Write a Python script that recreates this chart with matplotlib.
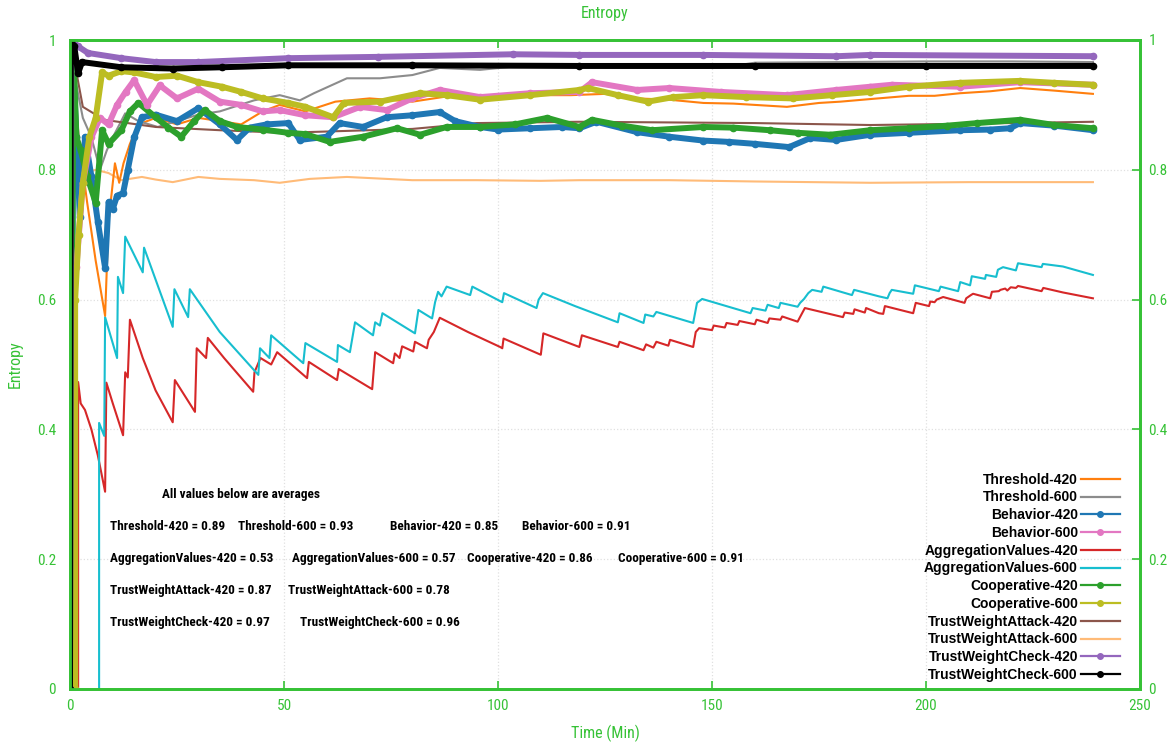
import matplotlib
matplotlib.use("Agg")
import matplotlib.pyplot as plt
from matplotlib.lines import Line2D
from matplotlib import font_manager

names = {f.name for f in font_manager.fontManager.ttflist}
BASE = 'Liberation Sans' if 'Liberation Sans' in names else 'DejaVu Sans'
NARROW = None
for cand in ['Liberation Sans Narrow', 'Roboto Condensed', 'Open Sans Condensed', 'Noto Sans Condensed',
             'Arial Narrow', 'DejaVu Sans Condensed']:
    if cand in names:
        NARROW = cand
        break
plt.rcParams['font.family'] = [BASE, 'DejaVu Sans']
NFAM = [NARROW, 'DejaVu Sans'] if NARROW else [BASE, 'DejaVu Sans']

GREEN = '#36c236'

# ---------------- data ----------------
thr420_x = [0, 0.6, 1, 2, 4, 6, 8.2, 9, 10.5, 11.5, 12.5, 14, 16, 20, 25, 30, 35, 40, 45, 49, 55, 62, 70, 80, 90, 100,
            110, 117, 125, 132.5, 140, 148, 155, 160, 167.5, 175, 180, 187, 196, 202, 208, 215, 222, 230, 239]
thr420_y = [0, 1.0, 0.95, 0.85, 0.75, 0.66, 0.575, 0.72, 0.81, 0.78, 0.81, 0.84, 0.87, 0.88, 0.87, 0.88, 0.875, 0.87,
            0.89, 0.90, 0.89, 0.905, 0.91, 0.905, 0.915, 0.91, 0.915, 0.915, 0.917, 0.91, 0.908, 0.903, 0.902, 0.9,
            0.897, 0.903, 0.905, 0.909, 0.914, 0.914, 0.918, 0.921, 0.926, 0.922, 0.917]

thr600_x = [0, 0.6, 1.5, 3, 5, 7, 8.6, 10, 12.9, 16, 20.5, 25, 30, 35, 43, 49, 53.7, 57, 64.7, 72.4, 80, 86.4, 95.8,
            105, 115, 125, 140, 152, 160, 180, 200, 220, 239]
thr600_y = [0, 1.0, 0.93, 0.88, 0.85, 0.80, 0.83, 0.85, 0.887, 0.875, 0.866, 0.875, 0.885, 0.89, 0.907, 0.915, 0.907,
            0.918, 0.941, 0.941, 0.946, 0.957, 0.954, 0.96, 0.963, 0.958, 0.957, 0.957, 0.965, 0.966, 0.967, 0.967, 0.966]

beh420_x = [0, 0.8, 1.5, 2.3, 3.5, 5, 6.5, 8.2, 9, 10, 11, 12.4, 13.5, 15, 16.8, 20, 25, 30, 35, 39, 42, 46, 51, 53.7,
            60, 63, 68.5, 74, 80, 86.4, 90, 95.8, 100, 107.5, 115, 119, 123, 132.5, 140, 148, 154, 160, 168, 173, 179,
            187, 196, 208, 215, 219.6, 222, 230, 239]
beh420_y = [0, 0.95, 0.85, 0.727, 0.85, 0.79, 0.72, 0.649, 0.75, 0.74, 0.76, 0.764, 0.80, 0.85, 0.881, 0.885, 0.875,
            0.895, 0.87, 0.846, 0.865, 0.87, 0.872, 0.846, 0.851, 0.872, 0.866, 0.881, 0.884, 0.889, 0.875, 0.866,
            0.862, 0.864, 0.866, 0.864, 0.874, 0.858, 0.851, 0.845, 0.843, 0.84, 0.835, 0.849, 0.846, 0.854, 0.857,
            0.861, 0.862, 0.864, 0.872, 0.868, 0.861]

beh600_x = [0, 0.8, 1.5, 3, 5, 7, 9, 11, 13, 15, 18, 21, 25, 30, 35, 40, 45, 49, 55, 61.5, 67.8, 74, 80, 86.4, 95.8,
            107.5, 119, 122, 132.5, 140, 152, 167.5, 179, 187, 192, 208, 222, 239]
beh600_y = [0, 0.6, 0.65, 0.78, 0.85, 0.88, 0.87, 0.9, 0.92, 0.938, 0.9, 0.93, 0.91, 0.925, 0.905, 0.9, 0.89, 0.892,
            0.884, 0.881, 0.897, 0.892, 0.91, 0.923, 0.912, 0.918, 0.92, 0.935, 0.923, 0.926, 0.92, 0.915, 0.923,
            0.928, 0.931, 0.928, 0.935, 0.931]

agg420_x = [1.9, 1.9, 2.5, 3.5, 5, 6.5, 8.2, 8.5, 10, 12.4, 12.9, 13.5, 14, 17, 20, 24, 24.5, 29.2, 29.6, 31.8, 32.2,
            36, 42.8, 43.1, 44.5, 47, 48.4, 55.4, 55.8, 62.4, 62.8, 70.6, 71.3, 75.5, 75.9, 77, 77.6, 80.2, 80.6,
            83.4, 83.8, 85, 86.4, 93, 100.5, 101, 101.3, 110, 110.6, 119, 119.6, 128, 128.4, 134, 134.6, 136.3, 137,
            139.8, 140.2, 145.6, 146.2, 147, 150, 150.4, 153, 153.4, 156, 156.4, 160, 160.4, 163, 163.4, 166, 166.4,
            170, 170.4, 171.7, 180.6, 181, 183, 183.3, 185.7, 186, 189, 190, 190.4, 197, 197.6, 200.7, 201, 202,
            202.5, 204, 209, 209.4, 210.5, 211, 215, 215.4, 217, 217.4, 218.5, 219, 219.8, 221, 221.5, 227, 227.4,
            232, 239]
agg420_y = [0, 0.473, 0.44, 0.43, 0.40, 0.36, 0.304, 0.472, 0.44, 0.391, 0.488, 0.48, 0.569, 0.51, 0.46, 0.411,
            0.476, 0.427, 0.525, 0.51, 0.541, 0.51, 0.458, 0.488, 0.51, 0.50, 0.519, 0.479, 0.504, 0.476, 0.493,
            0.462, 0.519, 0.502, 0.517, 0.51, 0.528, 0.52, 0.535, 0.525, 0.538, 0.55, 0.572, 0.55, 0.527, 0.525,
            0.54, 0.515, 0.548, 0.527, 0.545, 0.527, 0.535, 0.522, 0.531, 0.526, 0.535, 0.529, 0.538, 0.527, 0.55,
            0.556, 0.553, 0.56, 0.557, 0.564, 0.561, 0.567, 0.562, 0.569, 0.564, 0.571, 0.569, 0.574, 0.566, 0.571,
            0.587, 0.573, 0.58, 0.578, 0.585, 0.58, 0.587, 0.579, 0.578, 0.59, 0.579, 0.595, 0.59, 0.597, 0.596,
            0.60, 0.604, 0.595, 0.602, 0.607, 0.609, 0.602, 0.612, 0.613, 0.615, 0.617, 0.614, 0.619, 0.618, 0.621,
            0.613, 0.618, 0.611, 0.602]

agg600_x = [6.8, 6.8, 8.0, 8.2, 11, 11.2, 12.4, 12.9, 17, 17.3, 24, 24.4, 27.6, 28, 35, 44, 44.4, 46.6, 47, 54.5, 55,
            62.4, 62.6, 65.4, 66.6, 70.8, 71.3, 72.4, 73, 80.6, 81.4, 84.6, 85.3, 86, 86.8, 88, 93.5, 94, 101, 101.4,
            109, 109.5, 110.5, 118, 128, 128.4, 134, 134.4, 136.3, 137, 145.6, 146.5, 147.7, 159, 159.5, 162.5, 163,
            165.6, 166, 170, 170.6, 171.5, 172.5, 173.4, 175.6, 176, 182.7, 183.2, 189, 191, 191.5, 192, 197, 197.4,
            203, 203.4, 207.5, 208, 210.3, 210.7, 213.8, 214, 216.4, 216.8, 218, 221, 221.5, 227, 227.3, 232, 239]
agg600_y = [0, 0.41, 0.39, 0.573, 0.51, 0.635, 0.61, 0.697, 0.642, 0.68, 0.558, 0.616, 0.573, 0.616, 0.55, 0.484,
            0.525, 0.51, 0.545, 0.502, 0.533, 0.504, 0.53, 0.519, 0.565, 0.545, 0.565, 0.56, 0.579, 0.548, 0.584,
            0.571, 0.596, 0.612, 0.605, 0.62, 0.607, 0.62, 0.596, 0.61, 0.587, 0.60, 0.61, 0.59, 0.565, 0.579, 0.564,
            0.577, 0.574, 0.581, 0.564, 0.595, 0.601, 0.579, 0.587, 0.583, 0.592, 0.587, 0.595, 0.589, 0.595, 0.601,
            0.61, 0.615, 0.612, 0.62, 0.607, 0.615, 0.605, 0.602, 0.61, 0.615, 0.609, 0.622, 0.613, 0.62, 0.613,
            0.627, 0.622, 0.636, 0.632, 0.638, 0.635, 0.646, 0.65, 0.645, 0.656, 0.65, 0.655, 0.651, 0.638]

coop420_x = [0, 0.8, 1.5, 2.5, 4, 6, 7.5, 9, 12, 14, 16, 20, 23, 26, 29, 31.5, 35, 39, 45, 51, 55, 60.7, 68.5, 76.4,
             81.8, 88, 95.8, 104, 111.5, 119, 122, 129, 136, 148, 155, 163.5, 170, 177.6, 187, 196, 205, 212, 222,
             230, 239]
coop420_y = [0, 0.98, 0.85, 0.83, 0.79, 0.749, 0.861, 0.84, 0.861, 0.89, 0.903, 0.881, 0.865, 0.851, 0.875, 0.892,
             0.875, 0.866, 0.862, 0.857, 0.855, 0.843, 0.851, 0.864, 0.854, 0.866, 0.866, 0.87, 0.88, 0.866, 0.877,
             0.868, 0.861, 0.866, 0.865, 0.861, 0.857, 0.854, 0.861, 0.864, 0.868, 0.872, 0.877, 0.869, 0.864]

coop600_x = [0, 1.2, 1.2, 2, 3, 4.5, 6, 7.5, 9, 12, 15, 20, 25, 30, 35.5, 40, 45, 51, 55, 61.5, 64, 72.4, 81.8, 88,
             95.8, 107.5, 119, 121, 128, 135, 141, 148, 158, 169, 178, 187, 196, 208, 222, 230, 239]
coop600_y = [0, 0, 0.6, 0.7, 0.78, 0.85, 0.88, 0.95, 0.945, 0.952, 0.95, 0.943, 0.945, 0.935, 0.928, 0.92, 0.91,
             0.903, 0.897, 0.881, 0.903, 0.905, 0.918, 0.915, 0.908, 0.915, 0.923, 0.926, 0.915, 0.905, 0.912, 0.915,
             0.912, 0.91, 0.915, 0.92, 0.928, 0.934, 0.937, 0.934, 0.931]

twa420_x = [0, 0.6, 1.5, 3, 8, 20, 35, 50, 65, 80, 95, 119, 140, 160, 187, 210, 239]
twa420_y = [0, 1.0, 0.95, 0.897, 0.877, 0.866, 0.861, 0.857, 0.86, 0.863, 0.872, 0.874, 0.873, 0.872, 0.869, 0.871,
            0.874]

twa600_x = [0, 1.0, 2, 3.5, 6, 9, 12, 16.8, 20, 24, 30, 35, 43, 49, 56, 64.7, 80, 95, 110, 119, 140, 160, 187, 210, 239]
twa600_y = [0, 0.88, 0.83, 0.795, 0.80, 0.795, 0.784, 0.789, 0.785, 0.781, 0.789, 0.786, 0.784, 0.78, 0.786, 0.789,
            0.784, 0.784, 0.783, 0.784, 0.784, 0.782, 0.78, 0.781, 0.781]

twc420_x = [0, 0.3, 1.9, 4.2, 12, 20, 30, 51, 72, 103.5, 119, 148, 179, 187, 239]
twc420_y = [0, 1.0, 0.99, 0.98, 0.972, 0.966, 0.966, 0.972, 0.974, 0.978, 0.977, 0.977, 0.975, 0.977, 0.975]

twc600_x = [0, 0.2, 1.0, 1.9, 2.8, 12, 24, 35.5, 51, 80, 119, 160, 200, 239]
twc600_y = [0, 1.0, 0.99, 0.949, 0.966, 0.958, 0.956, 0.958, 0.961, 0.961, 0.96, 0.96, 0.96, 0.96]

series = [
    ("Threshold-420", thr420_x, thr420_y, '#ff7f0e', False),
    ("Threshold-600", thr600_x, thr600_y, '#8c8c8c', False),
    ("Behavior-420", beh420_x, beh420_y, '#1f77b4', True),
    ("Behavior-600", beh600_x, beh600_y, '#e377c2', True),
    ("AggregationValues-420", agg420_x, agg420_y, '#d62728', False),
    ("AggregationValues-600", agg600_x, agg600_y, '#17becf', False),
    ("Cooperative-420", coop420_x, coop420_y, '#2ca02c', True),
    ("Cooperative-600", coop600_x, coop600_y, '#bcbd22', True),
    ("TrustWeightAttack-420", twa420_x, twa420_y, '#8c564b', False),
    ("TrustWeightAttack-600", twa600_x, twa600_y, '#ffbb78', False),
    ("TrustWeightCheck-420", twc420_x, twc420_y, '#9467bd', True),
    ("TrustWeightCheck-600", twc600_x, twc600_y, '#000000', True),
]

averages = [
    [("Threshold-420 = 0.89", 9.3), ("Threshold-600 = 0.93", 39.3), ("Behavior-420 = 0.85", 74.8),
     ("Behavior-600 = 0.91", 105.6)],
    [("AggregationValues-420 = 0.53", 9.3), ("AggregationValues-600 = 0.57", 51.9), ("Cooperative-420 = 0.86", 92.8),
     ("Cooperative-600 = 0.91", 128.0)],
    [("TrustWeightAttack-420 = 0.87", 9.3), ("TrustWeightAttack-600 = 0.78", 50.9)],
    [("TrustWeightCheck-420 = 0.97", 9.3), ("TrustWeightCheck-600 = 0.96", 53.7)],
]
avg_rows_y = [0.25, 0.201, 0.152, 0.103]

xticks = [0, 50, 100, 150, 200, 250]
yticks = [0, 0.2, 0.4, 0.6, 0.8, 1.0]
ytick_labels = ['0', '0.2', '0.4', '0.6', '0.8', '1']

# ---------------- figure ----------------
fig = plt.figure(figsize=(11.73, 7.44), dpi=100)
ax = fig.add_axes([70 / 1173, 55 / 744, 1070 / 1173, 649 / 744])

order = [4, 5, 9, 0, 1, 8, 2, 6, 3, 7, 10, 11]
for i in order:
    name, xs, ys, col, thick = series[i]
    if thick:
        ax.plot(xs, ys, color=col, lw=4.3, solid_joinstyle='round', solid_capstyle='round',
                marker='o', ms=4.5, zorder=3)
    else:
        ax.plot(xs, ys, color=col, lw=1.5, zorder=2)

ax.set_xlim(0, 250)
ax.set_ylim(0, 1)
ax.set_xticks(xticks)
ax.set_xticklabels([str(v) for v in xticks])
ax.set_yticks(yticks)
ax.set_yticklabels(ytick_labels)
ax.tick_params(axis='both', direction='in', colors=GREEN, labelcolor=GREEN, labelsize=11, length=6, width=1.2,
               top=True, right=True)
ax.tick_params(axis='y', pad=10)
ax.tick_params(axis='x', pad=7)
for lab in ax.get_xticklabels() + ax.get_yticklabels():
    lab.set_family(NFAM)

# right-hand labels via twin axis
ax2 = ax.twinx()
ax2.set_ylim(0, 1)
ax2.set_yticks(yticks)
ax2.set_yticklabels(ytick_labels)
ax2.tick_params(axis='y', direction='in', colors=GREEN, labelcolor=GREEN, labelsize=11, length=6, width=1.2, pad=6)
for lab in ax2.get_yticklabels():
    lab.set_family(NFAM)

for a in (ax, ax2):
    for sp in a.spines.values():
        sp.set_color(GREEN)
        sp.set_linewidth(2)
ax.grid(True, color='#e0e0e0', ls=':', lw=0.9)
ax.set_axisbelow(True)

ax.set_title("Entropy", color=GREEN, fontsize=11.5, pad=16, family=NFAM)
ax.set_xlabel("Time (Min)", color=GREEN, fontsize=11.5, labelpad=9, family=NFAM)
ax.set_ylabel("Entropy", color=GREEN, fontsize=11.5, labelpad=10, family=NFAM)

# annotations
asize = 9.5 if NARROW else 7.6
ax.text(21.5, 0.3, "All values below are averages", fontsize=asize, fontweight='bold', va='center', ha='left',
        family=NFAM)
for row, yy in zip(averages, avg_rows_y):
    for txt, xx in row:
        ax.text(xx, yy, txt, fontsize=asize, fontweight='bold', va='center', ha='left', family=NFAM)

# legend
handles = []
for name, xs, ys, col, thick in series:
    if thick:
        handles.append(Line2D([], [], color=col, lw=1.6, marker='o', ms=4))
    else:
        handles.append(Line2D([], [], color=col, lw=1.6))
leg = ax.legend(handles, [s[0] for s in series], loc='lower right', bbox_to_anchor=(0.99, -0.004),
                frameon=False, markerfirst=False, fontsize=10, handlelength=2.8, labelspacing=0.27,
                handletextpad=0.2, borderaxespad=0.3)
for t in leg.get_texts():
    t.set_fontweight('bold')
leg._legend_box.align = 'right'
leg.set_zorder(5)

fig.savefig("out.png", dpi=100, facecolor='white')
